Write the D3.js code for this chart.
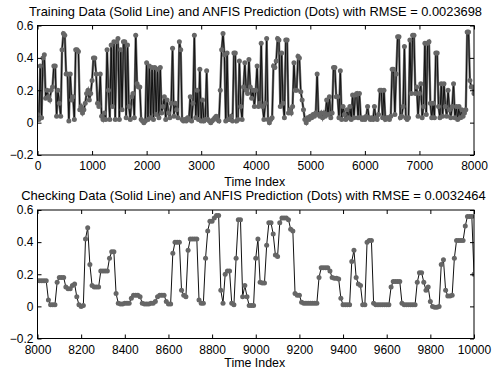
<!DOCTYPE html>
<html><head><meta charset="utf-8">
<script src="https://cdn.jsdelivr.net/npm/d3@7"></script>
<style>
html,body{margin:0;padding:0;background:#fff;}
svg{display:block;}
text{font-family:"Liberation Sans",Arial,sans-serif;}
</style></head>
<body>
<svg id="chart" width="495" height="373"></svg>
<script>
// ---------- DATA ----------
const trainStart = 0, trainStep = 25;
const trainValues = [
 .05,.02,.35,.03,.40,.42,.15,.20,.16,.14,.20,.22,.35,.35,.04,.20,.12,.04,.45,.55,
 .54,.30,.30,.01,.30,.14,.16,.02,.45,.45,.44,.08,.10,.06,.08,.12,.18,.20,.14,.18,
 .26,.40,.40,.30,.12,.10,.30,.04,.02,.06,.02,.45,.20,.02,.48,.10,.50,.02,.50,.52,
 .02,.45,.08,.50,.50,.03,.48,.10,.02,.16,.18,.03,.54,.24,.22,.22,.02,.01,.00,.01,
 .37,.02,.35,.03,.34,.02,.34,.05,.33,.03,.34,.06,.10,.16,.02,.14,.06,.03,.12,.46,
 .04,.12,.08,.03,.50,.45,.02,.01,.02,.01,.03,.02,.16,.01,.12,.54,.03,.20,.02,.33,
 .01,.14,.01,.02,.32,.02,.01,.00,.01,.02,.03,.04,.02,.01,.20,.45,.55,.42,.01,.43,
 .02,.02,.04,.01,.43,.43,.01,.02,.38,.10,.02,.22,.37,.20,.18,.39,.22,.15,.20,.10,
 .20,.35,.10,.12,.49,.10,.02,.12,.52,.02,.00,.02,.03,.35,.34,.38,.52,.51,.10,.43,
 .12,.03,.51,.51,.06,.08,.06,.10,.37,.20,.20,.41,.40,.19,.14,.08,.02,.00,.03,.02,
 .04,.03,.05,.04,.06,.30,.05,.04,.06,.03,.06,.04,.14,.05,.16,.03,.06,.34,.34,.16,
 .16,.03,.32,.02,.10,.05,.02,.08,.03,.10,.02,.17,.03,.17,.18,.03,.18,.03,.02,.03,
 .02,.04,.10,.03,.02,.03,.02,.10,.03,.02,.05,.20,.20,.03,.20,.02,.03,.03,.02,.04,
 .33,.33,.05,.30,.53,.53,.03,.04,.10,.47,.03,.02,.03,.51,.18,.54,.54,.18,.22,.04,
 .18,.24,.03,.10,.49,.05,.49,.50,.12,.03,.12,.03,.43,.43,.10,.03,.24,.04,.24,.10,
 .04,.20,.08,.03,.10,.24,.03,.10,.02,.10,.03,.08,.04,.06,.08,.56,.56,.26,.22,.22,
 .18
];
const checkStart = 8000, checkStep = 10;
const checkValues = [
 .16,.16,.16,.16,.16,.04,.01,.01,.01,.15,.18,.18,.18,.12,.11,.11,.13,.14,.06,.01,
 .00,.005,.42,.49,.26,.13,.12,.12,.12,.22,.22,.22,.22,.30,.34,.34,.08,.02,.015,.015,
 .02,.02,.02,.05,.07,.07,.07,.06,.02,.015,.015,.015,.02,.02,.03,.06,.07,.07,.07,.03,
 .015,.015,.33,.40,.40,.40,.10,.07,.06,.35,.42,.42,.42,.42,.04,.02,.02,.30,.47,.53,
 .53,.55,.565,.565,.10,.02,.20,.22,.22,.02,.01,.30,.54,.54,.06,.13,.06,.005,.005,.005,
 .30,.42,.15,.145,.145,.38,.52,.52,.45,.32,.31,.52,.55,.55,.55,.54,.48,.47,.08,.07,
 .07,.025,.02,.02,.02,.02,.02,.02,.02,.18,.24,.24,.24,.24,.22,.18,.175,.175,.17,.05,
 .01,.01,.01,.01,.28,.35,.18,.14,.13,.01,.01,.40,.41,.41,.02,.01,.01,.01,.01,.01,
 .01,.01,.12,.155,.155,.155,.155,.02,.01,.01,.01,.01,.01,.01,.15,.21,.21,.15,.10,.12,
 .03,.00,-.005,-.005,.00,.26,.29,.10,.065,.065,.07,.30,.41,.41,.41,.41,.50,.56,.56,.56,
 .20
];
const trainTicksX = [0,1000,2000,3000,4000,5000,6000,7000,8000];
const checkTicksX = [8000,8200,8400,8600,8800,9000,9200,9400,9600,9800,10000];
const ticksY = [-0.2,0,0.2,0.4,0.6];
const titles = [
 "Training Data (Solid Line) and ANFIS Prediction (Dots) with RMSE = 0.0023698",
 "Checking Data (Solid Line) and ANFIS Prediction (Dots) with RMSE = 0.0032464"
];
const xLabel = "Time Index";

// ---------- DRAW ----------
const svg = d3.select("#chart");
const FONT = "'Liberation Sans',Arial,sans-serif";

function fitText(sel, width){
  // scale the font size so the rendered text spans the target width
  const base = parseFloat(sel.style("font-size"));
  const w = sel.node().getComputedTextLength();
  if (w > 0) sel.style("font-size", (base*width/w).toFixed(2)+"px");
}

function panel(cfg){
  const {top,bottom,left,right,xDomain,xTicks,start,step,values,title,tickPad,titleY,titleX,titleW,labelY,underlay} = cfg;
  const x = d3.scaleLinear().domain(xDomain).range([left,right]);
  const y = d3.scaleLinear().domain([-0.2,0.6]).range([bottom,top]);
  const g = svg.append("g");
  const pts = values.map((v,i)=>[start+i*step, v]);
  const line = d3.line().x(d=>x(d[0])).y(d=>y(d[1]));

  const id = "clip"+Math.round(top);
  svg.append("clipPath").attr("id",id).append("rect")
    .attr("x",left).attr("y",top).attr("width",right-left).attr("height",bottom-top);
  const data = g.append("g").attr("clip-path",`url(#${id})`);
  if(underlay){
    data.append("path").datum(pts)
      .attr("fill","none").attr("stroke","#707070").attr("stroke-width",underlay)
      .attr("d", line);
  }
  data.append("path").datum(pts)
    .attr("fill","none").attr("stroke","#111").attr("stroke-width",1)
    .attr("d", line);
  data.selectAll("circle").data(pts).join("circle")
    .attr("cx",d=>x(d[0])).attr("cy",d=>y(d[1])).attr("r",2.5)
    .attr("fill","#666");

  const styleAxis = a => {
    a.select(".domain").remove();
    a.selectAll("line").attr("stroke","#000");
    a.selectAll("text").attr("fill","#000").style("font-size","12px").style("font-family",FONT);
  };
  g.append("g").attr("transform",`translate(0,${bottom})`)
    .call(d3.axisBottom(x).tickValues(xTicks).tickSize(-4).tickPadding(tickPad).tickFormat(d3.format("d")))
    .call(styleAxis);
  g.append("g").attr("transform",`translate(0,${top})`)
    .call(d3.axisTop(x).tickValues(xTicks).tickSize(-4).tickFormat(""))
    .call(styleAxis);
  g.append("g").attr("transform",`translate(${left},0)`)
    .call(d3.axisLeft(y).tickValues(ticksY).tickSize(-4).tickPadding(4).tickFormat(d=>d===0?"0":d3.format(".1f")(d)))
    .call(styleAxis);
  g.append("g").attr("transform",`translate(${right},0)`)
    .call(d3.axisRight(y).tickValues(ticksY).tickSize(-4).tickFormat(""))
    .call(styleAxis);
  g.append("rect").attr("x",left).attr("y",top).attr("width",right-left).attr("height",bottom-top)
    .attr("fill","none").attr("stroke","#000").attr("stroke-width",1);

  const t = g.append("text").attr("x",titleX).attr("y",titleY).attr("text-anchor","middle")
    .style("font-size","12px").style("font-family",FONT).text(title);
  fitText(t, titleW);
  const l = g.append("text").attr("x",(left+right)/2 - 1).attr("y",labelY).attr("text-anchor","middle")
    .style("font-size","12px").style("font-family",FONT).text(xLabel);
  fitText(l, 61);
}

panel({top:25.5,bottom:155,left:37.5,right:474,xDomain:[0,8000],xTicks:trainTicksX,
  start:trainStart,step:trainStep,values:trainValues,title:titles[0],tickPad:6,
  titleY:16,titleX:255.5,titleW:453,labelY:185.5,underlay:2.4});
panel({top:210,bottom:338.5,left:37.5,right:474,xDomain:[8000,10000],xTicks:checkTicksX,
  start:checkStart,step:checkStep,values:checkValues,title:titles[1],tickPad:7,
  titleY:200,titleX:253.5,titleW:465,labelY:366.5,underlay:0});
</script>
</body></html>
